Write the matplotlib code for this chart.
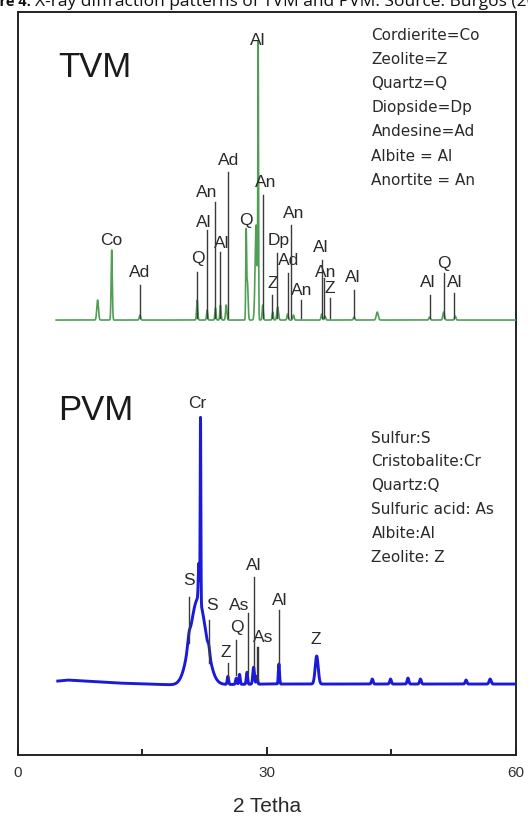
import numpy as np
import matplotlib
matplotlib.use("Agg")
import matplotlib.pyplot as plt

plt.rcParams['font.family'] = ['Liberation Sans', 'DejaVu Sans']

# TVM pattern (green): peak position (2 theta), height above baseline, width
tvm_peak_pos = [9.6, 11.3, 14.7, 21.6, 22.8, 23.8, 24.4, 25.1, 27.5, 27.65, 28.7, 28.95,
                29.5, 30.7, 31.3, 32.5, 33.2, 36.6, 37.0, 40.5, 43.3, 49.6, 51.3, 52.7]
tvm_peak_height = [20, 70, 5, 20, 10, 12, 15, 15, 85, 38, 95, 268,
                   15, 8, 13, 6, 5, 6, 4, 3, 8, 3, 8, 4]
tvm_peak_width = [0.10, 0.07, 0.08, 0.07, 0.07, 0.07, 0.07, 0.08, 0.05, 0.08, 0.12, 0.04,
                  0.07, 0.07, 0.1, 0.08, 0.08, 0.08, 0.08, 0.08, 0.12, 0.08, 0.1, 0.08]

# TVM phase markers: position, top of marker line, label text, label position
tvm_mark_pos = [14.7, 21.6, 22.8, 23.8, 24.4, 25.3, 29.5, 30.6, 31.2, 32.9, 32.5, 34.1,
                36.6, 36.9, 37.6, 40.5, 49.6, 51.3, 52.5]
tvm_mark_top = [35, 48, 90, 118, 68, 148, 125, 25, 67, 95, 47, 20,
                60, 42, 22, 30, 25, 47, 27]
tvm_labels = ['Co', 'Ad', 'Q', 'Al', 'An', 'Al', 'Ad', 'Q', 'Al', 'An', 'Z', 'Dp',
              'An', 'Ad', 'An', 'Al', 'An', 'Z', 'Al', 'Al', 'Q', 'Al']
tvm_label_x = [11.25, 14.7, 21.65, 22.4, 22.7, 24.55, 25.4, 27.45, 28.9, 29.9, 30.7, 31.45,
               33.25, 32.65, 34.2, 36.5, 37.1, 37.6, 40.4, 49.35, 51.3, 52.6]
tvm_label_y = [80, 48, 62, 98, 128, 77, 160, 100, 280, 138, 37, 80,
               107, 60, 30, 73, 48, 32, 43, 38, 57, 38]

# PVM pattern (blue)
pvm_base_pos = [4.8, 6.0, 8.0, 12.0, 16.0, 19.0, 30.0, 45.0, 60.0]
pvm_base_level = [4, 5, 4, 2, 1, 0, 1, 1, 1]
pvm_peak_pos = [21.7, 20.6, 21.8, 22.0, 23.0, 25.3, 26.3, 26.7, 27.6, 28.4, 28.8, 31.45,
                36.0, 42.7, 44.9, 47.0, 48.5, 54.0, 56.9]
pvm_peak_height = [86, 8, 36, 185, 6, 8, 6, 10, 12, 17, 8, 20,
                   28, 5, 5, 6, 5, 4, 5]
pvm_peak_width = [0.95, 0.15, 0.07, 0.04, 0.1, 0.08, 0.08, 0.08, 0.08, 0.1, 0.08, 0.07,
                  0.18, 0.1, 0.1, 0.1, 0.1, 0.1, 0.12]

pvm_mark_pos = [20.65, 23.0, 25.3, 26.3, 27.7, 28.5, 28.75, 28.95, 31.45]
pvm_mark_bottom = [42, 22, 7, 10, 12, 17, 5, 5, 20]
pvm_mark_top = [88, 65, 22, 45, 72, 108, 38, 38, 75]
pvm_labels = ['Cr', 'S', 'S', 'Z', 'Q', 'As', 'Al', 'As', 'Al', 'Z']
pvm_label_x = [21.55, 20.65, 23.35, 25.0, 26.35, 26.6, 28.4, 29.5, 31.6, 35.9]
pvm_label_y = [282, 105, 80, 33, 58, 80, 120, 48, 85, 46]

tvm_legend = ['Cordierite=Co', 'Zeolite=Z', 'Quartz=Q', 'Diopside=Dp',
              'Andesine=Ad', 'Albite = Al', 'Anortite = An']
pvm_legend = ['Sulfur:S', 'Cristobalite:Cr', 'Quartz:Q', 'Sulfuric acid: As',
              'Albite:Al', 'Zeolite: Z']

TVM_OFFSET = 435
PVM_OFFSET = 70


def pattern(x, pos, height, width):
    y = np.zeros_like(x)
    for p, h, w in zip(pos, height, width):
        y += h * np.exp(-0.5 * ((x - p) / w) ** 2)
    return y


fig = plt.figure(figsize=(5.28, 8.19), dpi=100)
ax = fig.add_axes([0.034, 0.0781, 0.943, 0.9072])

x_tvm = np.arange(4.6, 60.2, 0.01)
y_tvm = pattern(x_tvm, tvm_peak_pos, tvm_peak_height, tvm_peak_width)
ax.plot(x_tvm, y_tvm + TVM_OFFSET, color='#4f9f55', lw=1.2, zorder=3)

x_pvm = np.arange(4.8, 60.0, 0.01)
y_pvm = np.interp(x_pvm, pvm_base_pos, pvm_base_level) + \
    pattern(x_pvm, pvm_peak_pos, pvm_peak_height, pvm_peak_width)
ax.plot(x_pvm, y_pvm + PVM_OFFSET, color='#1a1ad8', lw=2.1, zorder=3)

mark_col = '#3a3a3a'
for p, t in zip(tvm_mark_pos, tvm_mark_top):
    ax.plot([p, p], [TVM_OFFSET + 2, TVM_OFFSET + t], color=mark_col, lw=1.0, zorder=4)
for p, b, t in zip(pvm_mark_pos, pvm_mark_bottom, pvm_mark_top):
    ax.plot([p, p], [PVM_OFFSET + b, PVM_OFFSET + t], color=mark_col, lw=1.0, zorder=4)

txt_col = '#2a2a2a'
for lab, lx, ly in zip(tvm_labels, tvm_label_x, tvm_label_y):
    ax.text(lx, TVM_OFFSET + ly, lab, ha='center', va='center', fontsize=12.5, color=txt_col)
for lab, lx, ly in zip(pvm_labels, pvm_label_x, pvm_label_y):
    ax.text(lx, PVM_OFFSET + ly, lab, ha='center', va='center', fontsize=12.5, color=txt_col)

# sample names
ax.text(4.85, 755 - 67, 'TVM', fontsize=25, color='#1a1a1a', va='center')
ax.text(4.85, 755 - 410, 'PVM', fontsize=25, color='#1a1a1a', va='center')

# phase keys
for i, s in enumerate(tvm_legend):
    ax.text(42.6, 755 - (35 + 24.2 * i), s, fontsize=11, color=txt_col, va='center',
            family='DejaVu Sans')
for i, s in enumerate(pvm_legend):
    ax.text(42.6, 755 - (438 + 23.8 * i), s, fontsize=11, color=txt_col, va='center',
            family='DejaVu Sans')

ax.set_xlim(0, 60)
ax.set_ylim(0, 743)
ax.set_yticks([])
ax.set_xticks([0, 30, 60])
ax.set_xticks([15, 45], minor=True)
ax.tick_params(axis='x', which='major', direction='in', length=6, width=1.2,
               labelsize=11, labelcolor='#333333', pad=8)
ax.tick_params(axis='x', which='minor', direction='in', length=4, width=1.2)
for sp in ax.spines.values():
    sp.set_linewidth(1.4)
    sp.set_color('#222222')
ax.set_xlabel('2 Tetha', fontsize=15, color='#2a2a2a', labelpad=12)

# caption, cropped at the top of the image
fig.text(31 / 528, 1 - 6 / 819, 'Figure 4.', fontsize=10.5, fontweight='bold',
         family='Open Sans', va='baseline', ha='right', color='#111111')
fig.text(35 / 528, 1 - 6 / 819, 'X-ray diffraction patterns of TVM and PVM. Source: Burgos (2017)',
         fontsize=12.5, family='Open Sans', va='baseline', color='#111111')

fig.savefig('out.png', dpi=100)
